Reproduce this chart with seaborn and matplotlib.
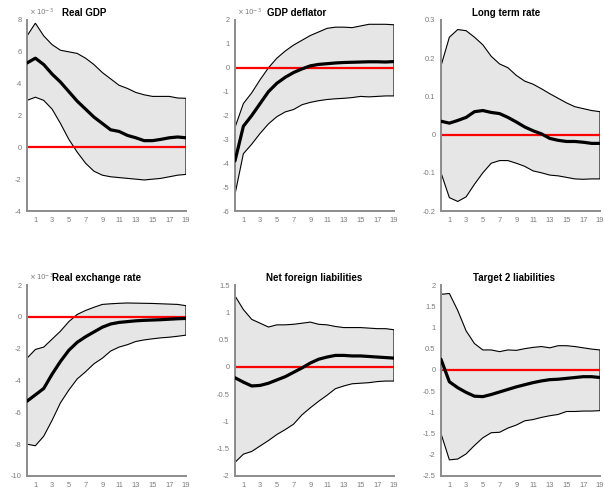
import matplotlib
matplotlib.use("Agg")
import matplotlib.pyplot as plt
from matplotlib.ticker import FuncFormatter, MultipleLocator
import numpy as np
import pandas as pd
import seaborn as sns

sns.set_style("white")
plt.rcParams["font.family"] = ["Liberation Sans", "DejaVu Sans"]
plt.rcParams["axes.unicode_minus"] = False

# Impulse-response horizon (quarters)
horizon = list(range(20))

# Real GDP (x 1e-3)
gdp_upper = [7.0, 7.8, 7.0, 6.45, 6.1, 6.0, 5.9, 5.6, 5.2, 4.7, 4.3, 3.9, 3.7, 3.45, 3.3, 3.2, 3.2, 3.2, 3.1, 3.08]
gdp_median = [5.3, 5.6, 5.2, 4.6, 4.1, 3.5, 2.9, 2.4, 1.9, 1.5, 1.1, 1.0, 0.75, 0.6, 0.42, 0.42, 0.5, 0.6, 0.65, 0.6]
gdp_lower = [2.95, 3.15, 2.95, 2.4, 1.5, 0.5, -0.3, -1.0, -1.5, -1.75, -1.85, -1.9, -1.95, -2.0, -2.05, -2.0, -1.95, -1.85, -1.75, -1.7]

# GDP deflator (x 1e-3)
defl_upper = [-2.5, -1.5, -1.05, -0.5, 0.0, 0.4, 0.7, 0.95, 1.15, 1.35, 1.5, 1.65, 1.7, 1.7, 1.68, 1.75, 1.82, 1.82, 1.82, 1.8]
defl_median = [-3.9, -2.45, -2.0, -1.5, -1.0, -0.65, -0.4, -0.2, -0.05, 0.08, 0.14, 0.17, 0.2, 0.22, 0.23, 0.24, 0.25, 0.25, 0.24, 0.26]
defl_lower = [-5.3, -3.6, -3.2, -2.75, -2.35, -2.05, -1.85, -1.75, -1.55, -1.45, -1.38, -1.33, -1.3, -1.28, -1.25, -1.2, -1.22, -1.2, -1.18, -1.18]

# Long term rate
ltr_upper = [0.18, 0.255, 0.275, 0.272, 0.255, 0.235, 0.205, 0.185, 0.175, 0.155, 0.14, 0.132, 0.12, 0.107, 0.095, 0.083, 0.073, 0.068, 0.063, 0.06]
ltr_median = [0.035, 0.03, 0.037, 0.045, 0.06, 0.063, 0.058, 0.055, 0.045, 0.033, 0.02, 0.01, 0.002, -0.01, -0.015, -0.018, -0.018, -0.02, -0.023, -0.023]
ltr_lower = [-0.1, -0.165, -0.175, -0.163, -0.13, -0.1, -0.075, -0.068, -0.068, -0.075, -0.083, -0.095, -0.1, -0.106, -0.108, -0.112, -0.116, -0.117, -0.116, -0.116]

# Real exchange rate (x 1e-3)
rer_upper = [-2.6, -2.05, -1.9, -1.4, -0.9, -0.3, 0.15, 0.4, 0.6, 0.78, 0.82, 0.85, 0.87, 0.86, 0.85, 0.84, 0.82, 0.8, 0.78, 0.7]
rer_median = [-5.3, -4.9, -4.5, -3.6, -2.8, -2.1, -1.6, -1.25, -0.95, -0.65, -0.45, -0.35, -0.3, -0.25, -0.22, -0.2, -0.18, -0.15, -0.12, -0.1]
rer_lower = [-8.0, -8.1, -7.5, -6.5, -5.4, -4.6, -3.9, -3.45, -2.95, -2.6, -2.15, -1.9, -1.75, -1.55, -1.45, -1.38, -1.32, -1.28, -1.22, -1.15]

# Net foreign liabilities
nfl_upper = [1.3, 1.05, 0.87, 0.8, 0.73, 0.77, 0.77, 0.78, 0.8, 0.82, 0.78, 0.77, 0.74, 0.72, 0.72, 0.72, 0.71, 0.7, 0.7, 0.68]
nfl_median = [-0.2, -0.28, -0.35, -0.34, -0.3, -0.24, -0.18, -0.1, -0.02, 0.07, 0.14, 0.18, 0.21, 0.21, 0.2, 0.2, 0.19, 0.18, 0.17, 0.16]
nfl_lower = [-1.75, -1.6, -1.55, -1.45, -1.35, -1.24, -1.15, -1.05, -0.88, -0.75, -0.63, -0.52, -0.4, -0.35, -0.31, -0.3, -0.29, -0.27, -0.26, -0.26]

# Target 2 liabilities
t2_upper = [1.78, 1.8, 1.4, 0.92, 0.62, 0.47, 0.47, 0.43, 0.47, 0.46, 0.5, 0.53, 0.55, 0.52, 0.57, 0.57, 0.55, 0.52, 0.49, 0.47]
t2_median = [0.25, -0.28, -0.42, -0.53, -0.62, -0.63, -0.58, -0.52, -0.46, -0.4, -0.35, -0.3, -0.26, -0.23, -0.22, -0.2, -0.18, -0.16, -0.16, -0.18]
t2_lower = [-1.5, -2.12, -2.1, -1.98, -1.78, -1.6, -1.48, -1.47, -1.37, -1.3, -1.2, -1.17, -1.12, -1.08, -1.05, -0.98, -0.98, -0.97, -0.97, -0.96]

titles = ["Real GDP", "GDP deflator", "Long term rate",
          "Real exchange rate", "Net foreign liabilities", "Target 2 liabilities"]
scales = [1e-3, 1e-3, 1.0, 1e-3, 1.0, 1.0]
series = [
    (gdp_lower, gdp_median, gdp_upper),
    (defl_lower, defl_median, defl_upper),
    (ltr_lower, ltr_median, ltr_upper),
    (rer_lower, rer_median, rer_upper),
    (nfl_lower, nfl_median, nfl_upper),
    (t2_lower, t2_median, t2_upper),
]
y_limits = [(-4, 8), (-6, 2), (-0.2, 0.3), (-10, 2), (-2, 1.5), (-2.5, 2)]
y_steps = [2, 1, 0.1, 2, 0.5, 0.5]

# Panel placement (pixels)
W, H = 604, 492
col_left = [27, 235, 441]
row_top = [20, 285]
ax_w, ax_h = 159, 191
title_x = [0.36, 0.39, 0.41, 0.44, 0.50, 0.46]

fig = plt.figure(figsize=(W / 100, H / 100), dpi=100)
grey_text = "#7a7a7a"


def make_formatter(scale):
    def fmt(v, pos):
        return f"{round(v / scale, 6):g}"
    return FuncFormatter(fmt)


for i in range(6):
    r, c = divmod(i, 3)
    left = col_left[c] / W
    bottom = 1 - (row_top[r] + ax_h) / H
    ax = fig.add_axes([left, bottom, ax_w / W, ax_h / H])
    lo, med, up = series[i]
    s = scales[i]
    df = pd.DataFrame({
        "h": horizon,
        "lower": np.array(lo) * s,
        "median": np.array(med) * s,
        "upper": np.array(up) * s,
    })
    # shaded band with its outline
    poly_x = list(df["h"]) + list(df["h"][::-1]) + [df["h"].iloc[0]]
    poly_y = list(df["upper"]) + list(df["lower"][::-1]) + [df["upper"].iloc[0]]
    ax.fill(poly_x, poly_y, facecolor="#e6e6e6", edgecolor="black", lw=0.8, zorder=1)
    ax.axhline(0, color="red", lw=1.6, zorder=2)
    sns.lineplot(data=df, x="h", y="median", color="black", lw=2.3, ax=ax, zorder=3)

    ax.set_xlim(0, 19)
    ylo, yhi = y_limits[i]
    ax.set_ylim(ylo * s, yhi * s)
    ax.yaxis.set_major_locator(MultipleLocator(y_steps[i] * s))
    ax.yaxis.set_major_formatter(make_formatter(s))
    ax.set_xticks(range(1, 20))
    ax.set_xticklabels([str(k) if k % 2 == 1 else "" for k in range(1, 20)])
    if s != 1.0:
        exp = int(round(np.log10(s)))
        ax.text(0.01, 1.012, r"$\times\,10^{%d}$" % exp, transform=ax.transAxes,
                ha="left", va="bottom", fontsize=5, color=grey_text)

    ax.set_xlabel("")
    ax.set_ylabel("")
    ax.tick_params(axis="both", direction="in", length=3, width=0.8,
                   color="#333333", labelsize=5.4, labelcolor=grey_text, pad=4)
    ax.tick_params(axis="y", length=2)
    for side in ["top", "right"]:
        ax.spines[side].set_visible(False)
    for side in ["left", "bottom"]:
        ax.spines[side].set_color("#8c8c8c")
        ax.spines[side].set_linewidth(1.4)
    ax.set_facecolor("white")
    ax.text(title_x[i], 1.012, titles[i], transform=ax.transAxes, ha="center",
            va="bottom", fontsize=7, fontweight="bold", color="black")

fig.savefig("out.png", dpi=100)
